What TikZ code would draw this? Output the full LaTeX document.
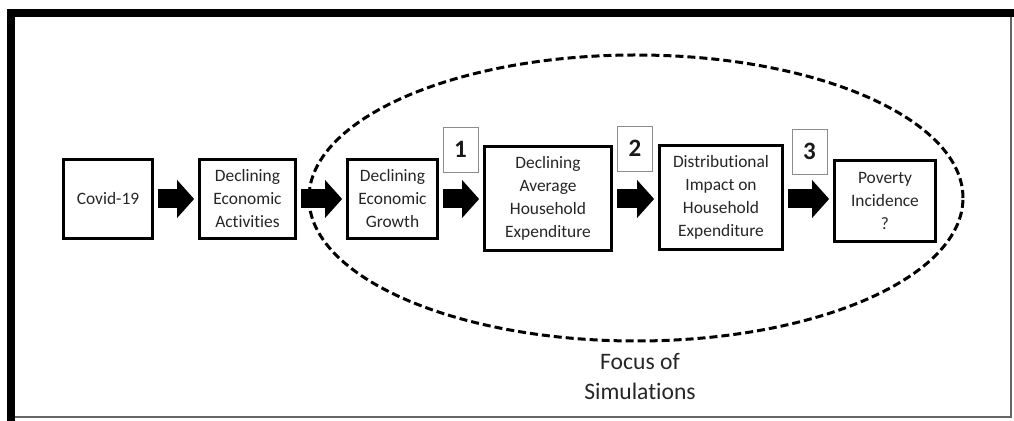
\documentclass[tikz,border=0pt]{standalone}
\usepackage{fontspec}
\setmainfont{Carlito}[Ligatures=NoCommon]
\usetikzlibrary{arrows.meta}
\definecolor{txt}{HTML}{262626}
\tikzset{
  stepbox/.style={draw=black, fill=white, line width=1.4pt, align=center, inner sep=0pt,
    text=txt, font=\fontsize{8.7}{11.5}\selectfont},
  numbox/.style={draw=black!45, fill=white, line width=0.4pt, inner sep=0pt,
    minimum width=17.5pt, minimum height=22.5pt, text=black!90,
    font=\fontsize{12.5}{14}\selectfont\bfseries},
  blockarrow/.style={draw=black, line width=9.5pt, shorten <=2pt, shorten >=2pt,
    -{Triangle[length=8.5pt,width=19pt,line width=0pt]}},
  focusline/.style={draw=black, line width=1.5pt, dash pattern=on 4pt off 2pt}
}
\begin{document}
\begin{tikzpicture}[x=0.5pt,y=-0.5pt]
\useasboundingbox (0,0) rectangle (1014,421);
% frame
\fill[black] (7,9) rectangle (1014,17);
\fill[black] (7,9) rectangle (15,421);
\draw[black!60, line width=0.8pt] (15,417) -- (1011,417) -- (1011,17);
% focus ellipse
\draw[focusline] (636,198) ellipse [x radius=163.5pt, y radius=71.5pt];
\node[text=txt, align=center, font=\fontsize{11.8}{15}\selectfont] (focus) at (640,377) {Focus of\\Simulations};
% boxes
\node[stepbox, minimum width=44.5pt, minimum height=39.5pt] (covid) at (108,199) {Covid-19};
\node[stepbox, minimum width=48pt, minimum height=39.5pt] (act) at (247.5,199) {Declining\\Economic\\Activities};
\node[stepbox, minimum width=45pt, minimum height=39.5pt] (growth) at (392.5,199) {Declining\\Economic\\Growth};
\node[stepbox, minimum width=63.5pt, minimum height=52pt] (avg) at (548,198.5) {Declining\\Average\\Household\\Expenditure};
\node[stepbox, minimum width=61.5pt, minimum height=52pt] (dist) at (721,197.5) {Distributional\\Impact on\\Household\\Expenditure};
\node[stepbox, minimum width=50.5pt, minimum height=40.5pt] (pov) at (885,201) {Poverty\\Incidence\\?};
% number labels
\node[numbox] (n1) at (460.5,149.5) {1};
\node[numbox] (n2) at (635,148.5) {2};
\node[numbox] (n3) at (809.5,151.5) {3};
% block arrows
\draw[blockarrow] (covid.east) -- (act.west);
\draw[blockarrow] (act.east) -- (growth.west);
\draw[blockarrow] (growth.east) -- (avg.west |- growth.east);
\draw[blockarrow] (avg.east |- growth.east) -- (dist.west |- growth.east);
\draw[blockarrow] (dist.east |- growth.east) -- (pov.west |- growth.east);
\end{tikzpicture}
\end{document}
